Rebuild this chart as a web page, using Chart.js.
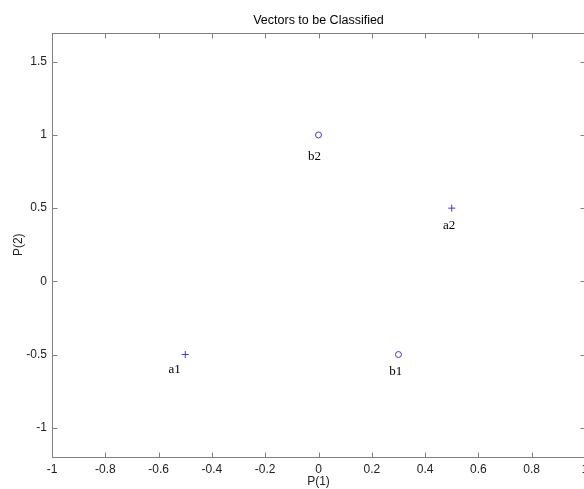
<!DOCTYPE html>
<html>
<head>
<meta charset="utf-8">
<script src="https://cdn.jsdelivr.net/npm/chart.js@4.4.1/dist/chart.umd.min.js"></script>
<style>
html, body { margin: 0; padding: 0; overflow: hidden; background: #fff; width: 584px; height: 489px; }
canvas { display: block; }
</style>
</head>
<body>
<canvas id="c" width="600" height="489"></canvas>
<script>
// ---- data ----
const chartTitle = 'Vectors to be Classified';
const classANames = ['a1', 'a2'];
const classAX = [-0.5, 0.5];
const classAY = [-0.5, 0.5];
const classBNames = ['b1', 'b2'];
const classBX = [0.3, 0.0];
const classBY = [-0.5, 1.0];
// text label anchor points (data coordinates), as placed in the original figure
const labelNames = ['a1', 'a2', 'b1', 'b2'];
const labelX = [-0.54, 0.49, 0.29, -0.015];
const labelY = [-0.60, 0.38, -0.615, 0.85];
const xTicks = [-1, -0.8, -0.6, -0.4, -0.2, 0, 0.2, 0.4, 0.6, 0.8, 1];
const xTickLabels = ['-1', '-0.8', '-0.6', '-0.4', '-0.2', '0', '0.2', '0.4', '0.6', '0.8', '1'];
const yTicks = [-1, -0.5, 0, 0.5, 1, 1.5];
const yTickLabels = ['-1', '-0.5', '0', '0.5', '1', '1.5'];
const xRange = [-1, 1];
const yRange = [-1.2, 1.7];

const axisColor = '#808080';
const markerColor = '#3c3cc8';
const sansFont = '"Liberation Sans", Arial, sans-serif';

const boxPlugin = {
  id: 'matlabBox',
  afterDraw(chart) {
    const ctx = chart.ctx;
    const a = chart.chartArea;
    const xs = chart.scales.x, ys = chart.scales.y;
    const L = Math.round(a.left) + 0.5, R = Math.round(a.right) + 0.5;
    const T = Math.round(a.top) + 0.5, B = Math.round(a.bottom) + 0.5;
    ctx.save();
    ctx.strokeStyle = axisColor;
    ctx.lineWidth = 1;
    ctx.strokeRect(L, T, R - L, B - T);
    const tl = 5;
    ctx.beginPath();
    xTicks.forEach(v => {
      const px = Math.round(xs.getPixelForValue(v)) + 0.5;
      ctx.moveTo(px, B); ctx.lineTo(px, B - tl);
      ctx.moveTo(px, T); ctx.lineTo(px, T + tl);
    });
    yTicks.forEach(v => {
      const py = Math.round(ys.getPixelForValue(v)) + 0.5;
      ctx.moveTo(L, py); ctx.lineTo(L + tl, py);
      ctx.moveTo(R, py); ctx.lineTo(R - tl, py);
    });
    ctx.stroke();
    // title, centred over the axes box
    ctx.fillStyle = '#000';
    ctx.font = '12.5px ' + sansFont;
    ctx.textAlign = 'center';
    ctx.textBaseline = 'alphabetic';
    ctx.fillText(chartTitle, (a.left + a.right) / 2, 24);
    // text labels
    ctx.font = '13px "Liberation Serif", "Times New Roman", serif';
    ctx.textBaseline = 'middle';
    labelNames.forEach((n, i) => {
      ctx.fillText(n, xs.getPixelForValue(labelX[i]), ys.getPixelForValue(labelY[i]));
    });
    ctx.restore();
  }
};

new Chart(document.getElementById('c'), {
  type: 'scatter',
  data: {
    datasets: [
      {
        label: 'class a',
        data: classAX.map((x, i) => ({ x: x, y: classAY[i] })),
        pointStyle: 'cross',
        pointRadius: 3.5,
        pointBorderWidth: 1,
        borderColor: markerColor,
        backgroundColor: markerColor
      },
      {
        label: 'class b',
        data: classBX.map((x, i) => ({ x: x, y: classBY[i] })),
        pointStyle: 'circle',
        pointRadius: 3,
        pointBorderWidth: 1,
        borderColor: markerColor,
        backgroundColor: 'rgba(0,0,0,0)'
      }
    ]
  },
  options: {
    responsive: false,
    animation: false,
    devicePixelRatio: 1,
    layout: { padding: { left: 0, right: 15, top: 32.5, bottom: 0 } },
    plugins: {
      legend: { display: false },
      tooltip: { enabled: false },
      title: { display: false }
    },
    scales: {
      x: {
        type: 'linear',
        min: xRange[0], max: xRange[1],
        grid: { display: false, drawTicks: false },
        border: { display: false },
        afterBuildTicks: s => { s.ticks = xTicks.map(v => ({ value: v })); },
        afterFit: s => { s.height = 32; },
        ticks: {
          color: '#222',
          font: { family: sansFont, size: 12 },
          padding: 5,
          maxRotation: 0,
          autoSkip: false,
          callback: (v) => { const i = xTicks.indexOf(v); return i >= 0 ? xTickLabels[i] : ''; }
        },
        title: {
          display: true, text: 'P(1)', color: '#222',
          font: { family: sansFont, size: 12 },
          padding: { top: 0, bottom: 0 }
        }
      },
      y: {
        type: 'linear',
        min: yRange[0], max: yRange[1],
        grid: { display: false, drawTicks: false },
        border: { display: false },
        afterBuildTicks: s => { s.ticks = yTicks.map(v => ({ value: v })); },
        afterFit: s => { s.width = 52; },
        ticks: {
          color: '#222',
          font: { family: sansFont, size: 12 },
          padding: 5,
          autoSkip: false,
          callback: (v) => { const i = yTicks.indexOf(v); return i >= 0 ? yTickLabels[i] : ''; }
        },
        title: {
          display: true, text: 'P(2)', color: '#222',
          font: { family: sansFont, size: 12 },
          padding: { top: 11.5, bottom: 0 }
        }
      }
    }
  },
  plugins: [boxPlugin]
});
</script>
</body>
</html>
